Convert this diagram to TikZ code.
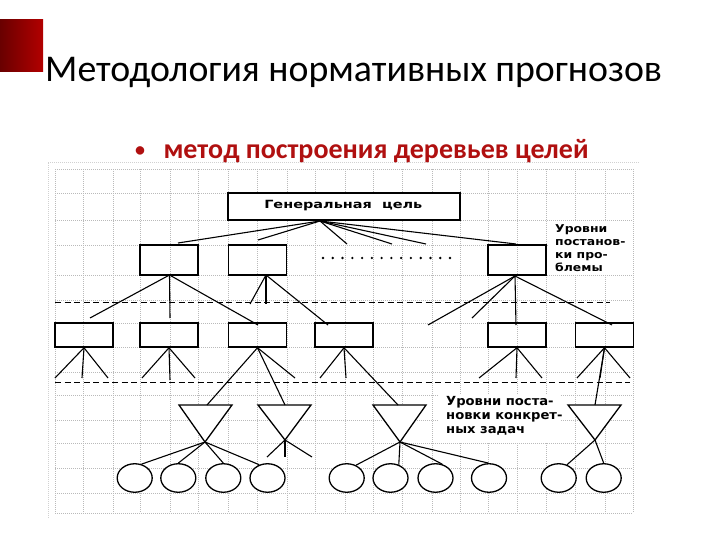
\documentclass[tikz,border=0pt]{standalone}
\usepackage{fontspec}
\setmainfont{Carlito}
\newfontfamily\lblfont[FakeStretch=1.15]{DejaVu Sans}
\newfontfamily\lowfont[FakeStretch=1.05]{DejaVu Sans}
\newfontfamily\genfont[FakeStretch=1.28]{DejaVu Sans}
\usetikzlibrary{shapes.geometric}
\definecolor{subred}{RGB}{176,16,16}
\definecolor{sqdark}{RGB}{105,0,0}
\definecolor{sqlight}{RGB}{178,0,0}
\tikzset{
  gridline/.style={black!27, line width=0.6pt, dash pattern=on 1pt off 1pt},
  frameline/.style={black!18, line width=0.6pt, dash pattern=on 1pt off 1pt},
  boxnode/.style={draw, line width=1.5pt, inner sep=0, minimum height=30pt, minimum width=58pt},
  smallbox/.style={draw, line width=1.5pt, inner sep=0, minimum height=24pt, minimum width=58pt},
  con/.style={line width=1.1pt},
  dashline/.style={line width=1pt, dash pattern=on 6pt off 3.5pt},
  ell/.style={ellipse, draw, fill=white, line width=1.3pt, minimum width=35pt, minimum height=28.5pt, inner sep=0},
  tri/.style={draw, fill=white, line width=1.3pt, line join=miter},
  lbl/.style={inner sep=0, anchor=base west, font=\lblfont\bfseries\fontsize{10.8}{12}\selectfont},
  lowlbl/.style={inner sep=0, anchor=base west, font=\lowfont\bfseries\fontsize{12.5}{14}\selectfont},
}
\begin{document}
\begin{tikzpicture}[x=1pt,y=-1pt]
\useasboundingbox (0,0) rectangle (720,540);
% red square
\shade[left color=sqdark, right color=sqlight] (0,20) rectangle (43,72);
% title and subtitle
\node[anchor=base west, inner sep=0, font=\fontsize{37.8}{44}\selectfont] (title) at (45,81.7) {Методология нормативных прогнозов};
\node[anchor=base, inner sep=0, text=subred, font=\bfseries\fontsize{20}{24}\selectfont] (bul) at (140,156.5) {•};
\node[anchor=base west, inner sep=0, text=subred, font=\bfseries\fontsize{28}{32}\selectfont] (sub) at (163.3,158.3) {метод построения деревьев целей};
% frame and grid
\draw[frameline] (48,518) -- (48,162) -- (639,162);
\foreach \x in {55,83,113,140,170,198,228,257,287,315,345,373,402,432,460,488,517,546,575,605,633}
  \draw[gridline] (\x,169) -- (\x,513);
\foreach \y in {169,193,220,245,275,300,323,347,372,395,420,443,468,493,513}
  \draw[gridline] (55,\y) -- (633,\y);
% white areas behind labels
\fill[white] (438,395) rectangle (560,443);
\fill[white] (549,221) rectangle (632,274);
% general goal
\node[draw, fill=white, line width=2.2pt, inner sep=0, minimum width=232pt, minimum height=27pt] (G) at (344,206.5) {};
\node[inner sep=0, anchor=base, font=\genfont\bfseries\fontsize{11.3}{13}\selectfont] (Gt) at (343.3,208.3) {Генеральная\ \ цель};
% level 1 boxes
\node[boxnode] (A) at (169,260) {};
\node[boxnode] (B) at (257.5,260) {};
\node[boxnode] (C) at (517,260) {};
\foreach \i in {0,...,13} \fill ({323+\i*9.77},258) circle (1.3);
% connectors from general goal
\coordinate (gA) at (320,221);
\coordinate (e1) at (178,243);
\coordinate (e2) at (258,240);
\coordinate (e3) at (347,244);
\coordinate (e4) at (392,244);
\coordinate (e5) at (426,244);
\coordinate (e6) at (516,244);
\foreach \e in {e1,e2,e3,e4,e5,e6} \draw[con] (gA) -- (\e);
% dashed level lines
\coordinate (d1a) at (55,302); \coordinate (d1b) at (610,302);
\coordinate (d2a) at (55,382); \coordinate (d2b) at (630,382);
\draw[dashline] (d1a) -- (d1b);
\draw[dashline] (d2a) -- (d2b);
% level 2 boxes
\node[smallbox] (b1) at (84,335) {};
\node[smallbox] (b2) at (169,335) {};
\node[smallbox] (b3) at (257.5,335) {};
\node[smallbox] (b4) at (344,335) {};
\node[smallbox] (b5) at (517,335) {};
\node[smallbox] (b6) at (604.5,335) {};
% connectors level 1 -> level 2
\coordinate (aS) at (169.5,275);
\coordinate (bS) at (266,275);
\coordinate (cS) at (515,276);
\coordinate (f1) at (90,318);
\coordinate (f2) at (170,318);
\coordinate (f3) at (258,325);
\coordinate (f4) at (250,304);
\coordinate (f5) at (266,304);
\coordinate (f6) at (328,325);
\coordinate (f7) at (428,325);
\coordinate (f8) at (472,318);
\coordinate (f9) at (516,325);
\coordinate (f10) at (612,325);
\foreach \e in {f1,f2,f3} \draw[con] (aS) -- (\e);
\foreach \e in {f4,f5,f6} \draw[con] (bS) -- (\e);
\foreach \e in {f7,f8,f9,f10} \draw[con] (cS) -- (\e);
% triangles
\coordinate (t1l) at (179,405); \coordinate (t1r) at (232,405); \coordinate (t1a) at (205,442);
\coordinate (t2l) at (258,405); \coordinate (t2r) at (311,405); \coordinate (t2a) at (285,440);
\coordinate (t3l) at (373,405); \coordinate (t3r) at (426,405); \coordinate (t3a) at (400,442);
\coordinate (t4l) at (568,405); \coordinate (t4r) at (621,405); \coordinate (t4a) at (595,440);
\foreach \t in {t1,t2,t3,t4} \draw[tri] (\t l) -- (\t r) -- (\t a) -- cycle;
% fans below level 2 boxes
\coordinate (g1) at (55,378); \coordinate (g2) at (82,378); \coordinate (g3) at (108,378);
\coordinate (g4) at (142,378); \coordinate (g5) at (170,380); \coordinate (g6) at (195,378);
\coordinate (g7) at (207,405); \coordinate (g8) at (285,405); \coordinate (g9) at (295,378);
\coordinate (g10) at (320,378); \coordinate (g11) at (346,378); \coordinate (g12) at (398,405);
\coordinate (g13) at (479,378); \coordinate (g14) at (516,378); \coordinate (g15) at (542,378);
\coordinate (g16) at (577,378); \coordinate (g17) at (630,378); \coordinate (g18) at (595,405); \coordinate (g19) at (600,378);
\foreach \e in {g1,g2,g3} \draw[con] (b1.south) -- (\e);
\foreach \e in {g4,g5,g6} \draw[con] (b2.south) -- (\e);
\foreach \e in {g7,g8,g9} \draw[con] (b3.south) -- (\e);
\foreach \e in {g10,g11,g12} \draw[con] (b4.south) -- (\e);
\foreach \e in {g13,g14,g15} \draw[con] (b5.south) -- (\e);
\foreach \e in {g16,g17,g18,g19} \draw[con] (b6.south) -- (\e);
% circles
\node[ell] (c1) at (134.7,478) {};
\node[ell] (c2) at (178.3,478) {};
\node[ell] (c3) at (223.3,478) {};
\node[ell] (c4) at (267.5,478) {};
\node[ell] (c5) at (346.7,478) {};
\node[ell] (c6) at (390.5,478) {};
\node[ell] (c7) at (435.5,478) {};
\node[ell] (c8) at (489,478) {};
\node[ell] (c9) at (558.7,478) {};
\node[ell] (c10) at (603.7,478) {};
% connectors from triangles
\draw[con] (t1a) -- (c1.64);
\draw[con] (t1a) -- (c2.90);
\draw[con] (t1a) -- (c3.90);
\draw[con] (t1a) -- (c4.122);
\coordinate (h1) at (267,457); \coordinate (h2) at (285,457); \coordinate (h3) at (312,457);
\foreach \e in {h1,h2,h3} \draw[con] (t2a) -- (\e);
\draw[con] (t3a) -- (c5.54);
\draw[con] (t3a) -- (c6.58);
\draw[con] (t3a) -- (c7.64);
\draw[con] (t3a) -- (c8.92);
\draw[con] (t4a) -- (c9.58);
\draw[con] (t4a) -- (c10.90);
% labels
\node[lbl] (r1) at (555,232.3) {Уровни};
\node[lbl] (r2) at (555,245.7) {постанов-};
\node[lbl] (r3) at (555,258.3) {ки про-};
\node[lbl] (r4) at (555,271) {блемы};
\node[lowlbl] (s1) at (446,405.5) {Уровни поста-};
\node[lowlbl] (s2) at (446,419.5) {новки конкрет-};
\node[lowlbl] (s3) at (446,433.5) {ных задач};
\end{tikzpicture}
\end{document}
